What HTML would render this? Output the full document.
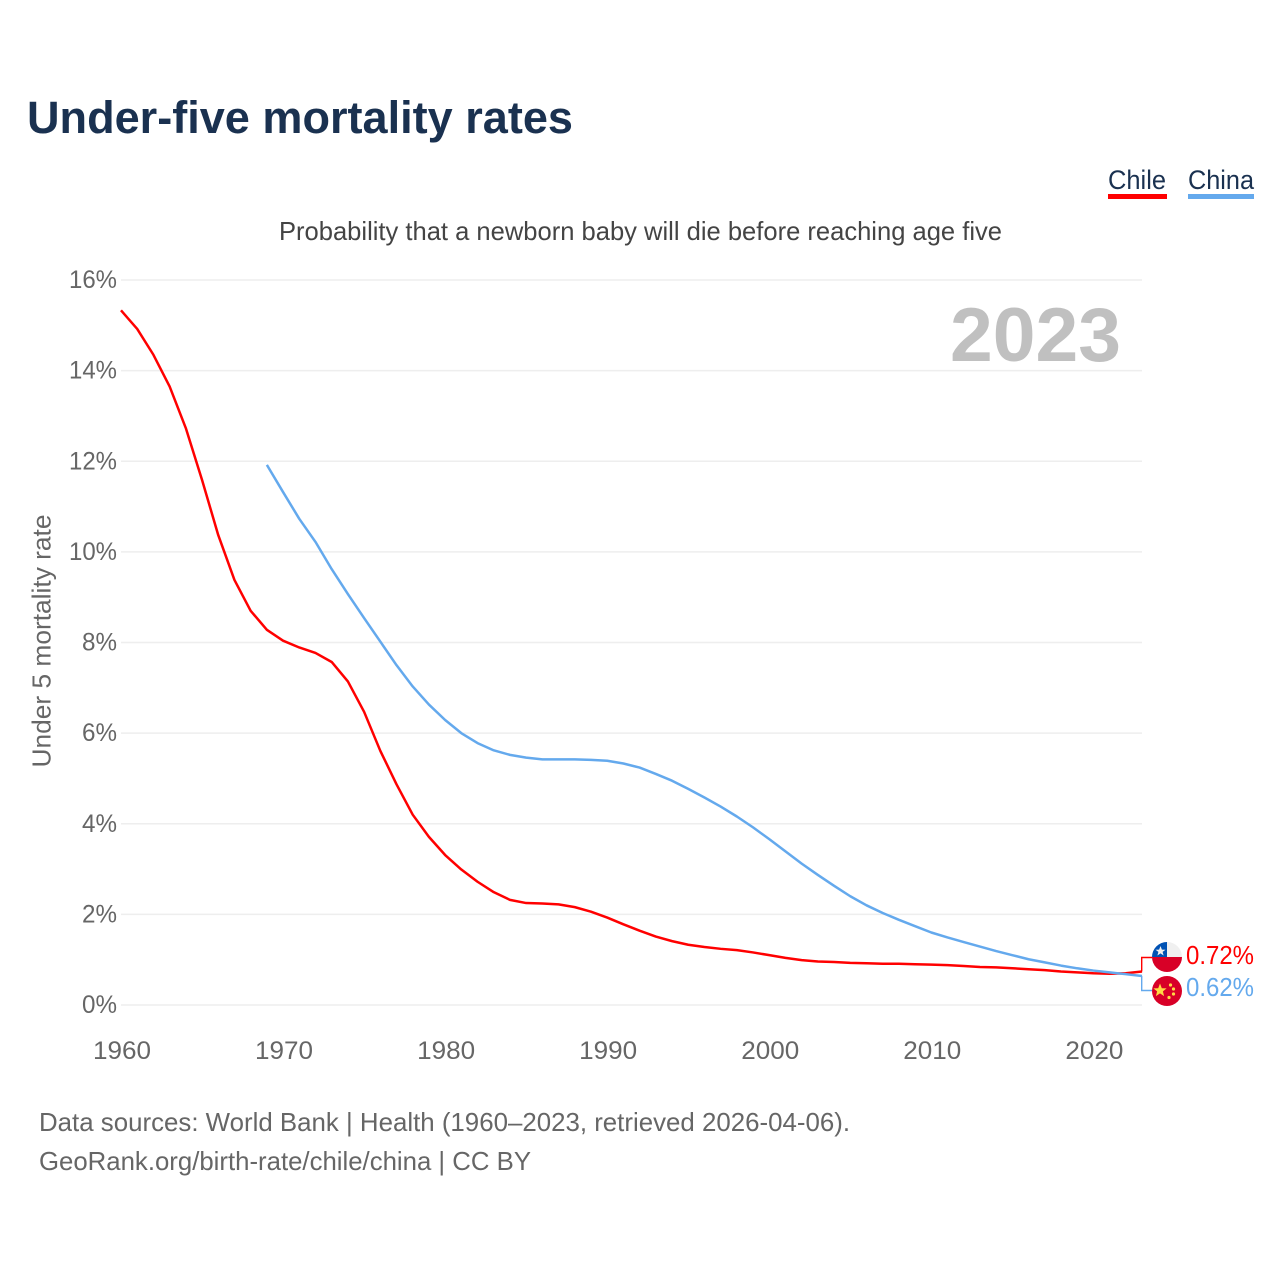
<!DOCTYPE html>
<html lang="en">
<head>
<meta charset="utf-8">
<title>Under-five mortality rates</title>
<style>
html,body{margin:0;padding:0;background:#fff;}
svg{display:block;font-family:"Liberation Sans",Arial,sans-serif;}
</style>
</head>
<body>
<svg id="chart" xmlns="http://www.w3.org/2000/svg" width="1280" height="1280" viewBox="0 0 1280 1280">
  <rect width="1280" height="1280" fill="#fff"/>
  <text x="27" y="133" font-size="45" font-weight="700" fill="#1a3150" textLength="546" lengthAdjust="spacingAndGlyphs">Under-five mortality rates</text>
  <g>
    <g>
      <text x="1108" y="189" font-size="27" fill="#1a3150" textLength="58" lengthAdjust="spacingAndGlyphs">Chile</text>
      <rect x="1108" y="194" width="59" height="5" fill="#ff0000"/>
    </g>
    <g>
      <text x="1188" y="189" font-size="27" fill="#1a3150" textLength="66" lengthAdjust="spacingAndGlyphs">China</text>
      <rect x="1188" y="194" width="66" height="5" fill="#64a9ed"/>
    </g>
  </g>
  <text x="279" y="240" font-size="26" fill="#444" textLength="723" lengthAdjust="spacingAndGlyphs">Probability that a newborn baby will die before reaching age five</text>
  <text transform="translate(50.5,641) rotate(-90)" text-anchor="middle" font-size="26" fill="#666" textLength="253" lengthAdjust="spacingAndGlyphs">Under 5 mortality rate</text>
  <g id="grid"></g>
  <g id="yticks"></g>
  <g id="xticks"></g>
  <text x="950" y="361" font-size="76" font-weight="700" fill="#c0c0c0" textLength="171" lengthAdjust="spacingAndGlyphs">2023</text>
  <g id="series"></g>
  <g id="connectors"></g>

  <g>
    <clipPath id="clipChile"><circle cx="1167" cy="957" r="15"/></clipPath>
    <g clip-path="url(#clipChile)">
      <rect x="1152" y="942" width="30" height="15" fill="#f0f0f0"/>
      <rect x="1152" y="942" width="15" height="15" fill="#0052b4"/>
      <rect x="1152" y="957" width="30" height="15" fill="#d80027"/>
      <polygon points="1160.5,946 1161.9,949.6 1165.5,949.7 1162.6,951.9 1163.6,955.5 1160.5,953.4 1157.4,955.5 1158.4,951.9 1155.5,949.7 1159.1,949.6" fill="#f0f0f0"/>
    </g>
  </g>
  <g>
    <circle cx="1167" cy="991" r="15" fill="#d80027"/>
    <polygon points="1160,983.5 1161.8,988.2 1166.6,988.4 1162.9,991.4 1164.1,996.1 1160,993.4 1155.9,996.1 1157.1,991.4 1153.4,988.4 1158.2,988.2" fill="#ffda44"/>
    <circle cx="1170.5" cy="985" r="1.6" fill="#ffda44"/>
    <circle cx="1173.5" cy="989" r="1.6" fill="#ffda44"/>
    <circle cx="1173.5" cy="994" r="1.6" fill="#ffda44"/>
    <circle cx="1169" cy="997.5" r="1.6" fill="#ffda44"/>
  </g>
  <text id="labelChile" x="1186" y="964" font-size="26" fill="#ff0000" textLength="68" lengthAdjust="spacingAndGlyphs"></text>
  <text id="labelChina" x="1186" y="996" font-size="26" fill="#64a9ed" textLength="68" lengthAdjust="spacingAndGlyphs"></text>

  <text x="39" y="1131" font-size="26" fill="#666" textLength="811" lengthAdjust="spacingAndGlyphs">Data sources: World Bank | Health (1960–2023, retrieved 2026-04-06).</text>
  <text x="39" y="1170" font-size="26" fill="#666" textLength="492" lengthAdjust="spacingAndGlyphs">GeoRank.org/birth-rate/chile/china | CC BY</text>
</svg>
<script>
var chileStartYear = 1960;
var chinaStartYear = 1969;
var chileValues = [15.33,14.92,14.35,13.65,12.73,11.59,10.37,9.38,8.70,8.28,8.04,7.89,7.77,7.57,7.14,6.47,5.61,4.87,4.20,3.71,3.31,2.99,2.72,2.49,2.32,2.25,2.24,2.22,2.16,2.06,1.93,1.78,1.64,1.51,1.41,1.33,1.28,1.24,1.21,1.16,1.10,1.04,0.99,0.96,0.95,0.93,0.92,0.91,0.91,0.90,0.89,0.88,0.86,0.84,0.83,0.81,0.79,0.77,0.74,0.72,0.70,0.69,0.70,0.74];
var chinaValues = [11.92,11.32,10.73,10.22,9.62,9.07,8.54,8.02,7.50,7.03,6.63,6.29,6.00,5.78,5.62,5.52,5.46,5.42,5.42,5.42,5.41,5.39,5.33,5.24,5.10,4.95,4.77,4.58,4.38,4.16,3.92,3.66,3.39,3.12,2.87,2.63,2.40,2.20,2.03,1.88,1.74,1.60,1.49,1.39,1.29,1.19,1.10,1.01,0.94,0.87,0.81,0.76,0.72,0.68,0.64];
var yTickValues = [0,2,4,6,8,10,12,14,16];
var xTickYears = [1960,1970,1980,1990,2000,2010,2020];
var chileEndLabel = "0.72%";
var chinaEndLabel = "0.62%";

var NS = "http://www.w3.org/2000/svg";
function xScale(year){ return 121 + (year - 1960) * (1142 - 121) / 63; }
function yScale(v){ return 1005 - v * (1005 - 280) / 16; }
function make(tag, attrs, parent){
  var el = document.createElementNS(NS, tag);
  for (var k in attrs) el.setAttribute(k, attrs[k]);
  parent.appendChild(el);
  return el;
}
function buildPath(values, startYear){
  var d = "";
  for (var i = 0; i < values.length; i++){
    d += (i ? "L" : "M") + xScale(startYear + i).toFixed(2) + " " + yScale(values[i]).toFixed(2);
  }
  return d;
}
var grid = document.getElementById("grid");
var yticks = document.getElementById("yticks");
var xticks = document.getElementById("xticks");
yTickValues.forEach(function(v){
  var line = make("line", {x1:121, x2:1142, y1:yScale(v), y2:yScale(v), stroke:"#eeeeee", "stroke-width":1.6}, grid);
  
  
  var label = v + "%";
  var t = make("text", {x:117, y:yScale(v) + 8, "text-anchor":"end", "font-size":25, fill:"#666", textLength: label.length === 3 ? 48 : 35, lengthAdjust:"spacingAndGlyphs"}, yticks);
  
  
  t.textContent = label;
});
xTickYears.forEach(function(y){
  var t = make("text", {x:xScale(y) + 1, y:1059, "text-anchor":"middle", "font-size":25, fill:"#666", textLength:58, lengthAdjust:"spacingAndGlyphs"}, xticks);
  
  
  t.textContent = y;
});
var series = document.getElementById("series");
var chileLine = make("path", {d:buildPath(chileValues, chileStartYear), fill:"none", stroke:"#ff0000", "stroke-width":2.5, "stroke-linejoin":"round"}, series);


var chinaLine = make("path", {d:buildPath(chinaValues, chinaStartYear), fill:"none", stroke:"#64a9ed", "stroke-width":2.5, "stroke-linejoin":"round"}, series);



var connectors = document.getElementById("connectors");
var chileEndY = yScale(chileValues[chileValues.length - 1]);
var chinaEndY = yScale(chinaValues[chinaValues.length - 1]);
var cChile = make("path", {d:"M1141.7 " + chileEndY + "V957.5H1152", fill:"none", stroke:"#ff0000", "stroke-width":1.4}, connectors);


var cChina = make("path", {d:"M1141.7 " + chinaEndY + "V990.5H1152", fill:"none", stroke:"#64a9ed", "stroke-width":1.4}, connectors);


document.getElementById("labelChile").textContent = chileEndLabel;
document.getElementById("labelChina").textContent = chinaEndLabel;
</script>
</body>
</html>
